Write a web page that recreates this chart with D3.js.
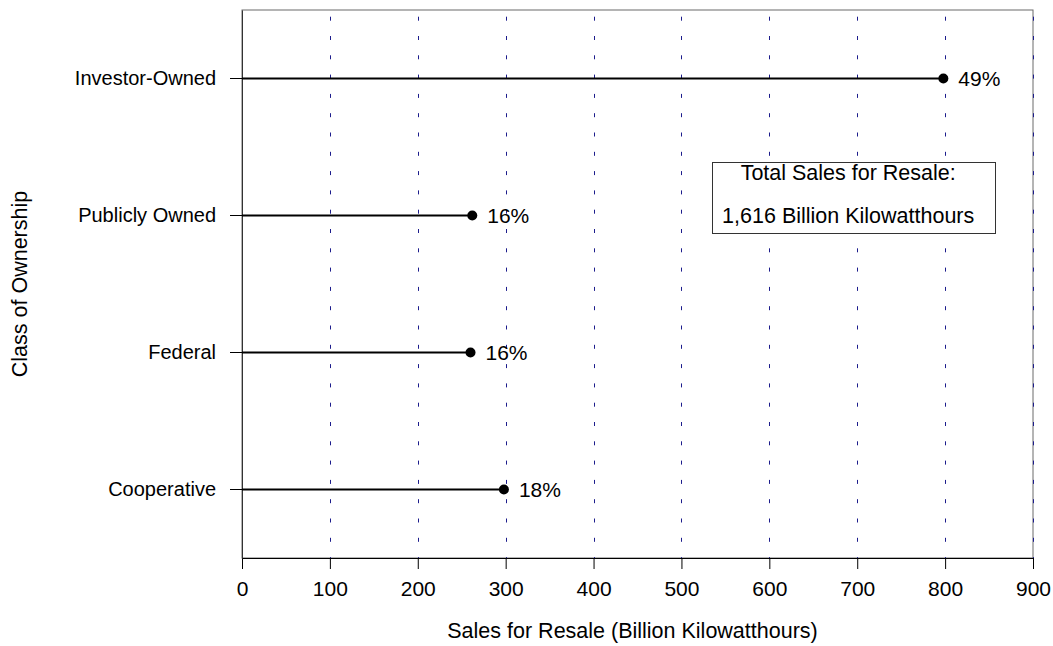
<!DOCTYPE html>
<html>
<head>
<meta charset="utf-8">
<script src="https://cdn.jsdelivr.net/npm/d3@7"></script>
<style>
  html, body { margin: 0; padding: 0; background: #fff; }
  text { font-family: "Liberation Sans", Arial, Helvetica, sans-serif; fill: #000; }
</style>
</head>
<body>
<svg id="chart" width="1053" height="646"></svg>
<script>
// ---- data ----
const categories = ["Investor-Owned", "Publicly Owned", "Federal", "Cooperative"];
const values = [798, 262, 260, 298];
const shareLabels = ["49%", "16%", "16%", "18%"];
const xTicks = [0, 100, 200, 300, 400, 500, 600, 700, 800, 900];
const xTitle = "Sales for Resale (Billion Kilowatthours)";
const yTitle = "Class of Ownership";
const noteLines = ["Total Sales for Resale:", "1,616 Billion Kilowatthours"];

// ---- layout ----
const W = 1053, H = 646;
const m = { left: 242, right: 1033, top: 10, bottom: 558 };
const FS = 21.5;

const svg = d3.select("#chart");

const x = d3.scaleLinear().domain([0, 900]).range([m.left, m.right]);
const y = d3.scaleBand().domain(categories).range([m.top, m.bottom]);
const yc = d => y(d) + y.bandwidth() / 2;

// frame
svg.append("rect")
  .attr("x", m.left).attr("y", m.top)
  .attr("width", m.right - m.left).attr("height", m.bottom - m.top)
  .attr("fill", "none").attr("stroke", "#6a6a6a").attr("stroke-width", 1);

// gridlines
svg.append("g").selectAll("line").data(xTicks).join("line")
  .attr("x1", d => Math.round(x(d)) + 0.5).attr("x2", d => Math.round(x(d)) + 0.5)
  .attr("y1", m.top).attr("y2", m.bottom)
  .attr("stroke", "#1c1c8c").attr("stroke-width", 1)
  .attr("stroke-dasharray", "4,15.3").attr("stroke-dashoffset", 12.6);

// x axis
const xAxis = svg.append("g")
  .attr("transform", `translate(0,${m.bottom})`)
  .call(d3.axisBottom(x).tickValues(xTicks).tickSize(11).tickSizeOuter(0).tickPadding(12).tickFormat(d3.format("d")));
xAxis.select(".domain").attr("stroke", "#000");
xAxis.selectAll(".tick line").attr("stroke", "#000");
xAxis.selectAll("text").attr("font-size", 21).attr("font-family", "Liberation Sans, Arial, sans-serif").attr("fill", "#000");

// y axis
const yAxis = svg.append("g")
  .attr("transform", `translate(${m.left},0)`)
  .call(d3.axisLeft(y).tickSize(12).tickSizeOuter(0).tickPadding(14));
yAxis.select(".domain").attr("stroke", "#333");
yAxis.selectAll(".tick line").attr("stroke", "#000");
yAxis.selectAll("text").attr("font-size", 20).attr("font-family", "Liberation Sans, Arial, sans-serif").attr("fill", "#000");

// lollipops
const rows = categories.map((c, i) => ({ c, v: values[i], lab: shareLabels[i] }));
svg.append("g").selectAll("line").data(rows).join("line")
  .attr("x1", x(0)).attr("x2", d => x(d.v))
  .attr("y1", d => yc(d.c)).attr("y2", d => yc(d.c))
  .attr("stroke", "#000").attr("stroke-width", 2.2);
svg.append("g").selectAll("circle").data(rows).join("circle")
  .attr("cx", d => x(d.v)).attr("cy", d => yc(d.c)).attr("r", 5)
  .attr("fill", "#000");
svg.append("g").selectAll("text").data(rows).join("text")
  .attr("x", d => x(d.v) + 15).attr("y", d => yc(d.c))
  .attr("dy", "0.36em")
  .attr("font-size", 21)
  .text(d => d.lab);

// note box
const bx0 = x(535), bx1 = x(857);
svg.append("rect")
  .attr("x", Math.round(bx0) + 0.5).attr("y", 162.5)
  .attr("width", Math.round(bx1 - bx0)).attr("height", 71)
  .attr("fill", "#fff").attr("stroke", "#333").attr("stroke-width", 1);
svg.append("g").selectAll("text").data(noteLines).join("text")
  .attr("x", bx0 + 136).attr("y", (d, i) => 179.5 + i * 43.5)
  .attr("text-anchor", "middle").attr("font-size", FS)
  .text(d => d);

// axis titles
svg.append("text")
  .attr("x", (m.left + m.right) / 2 - 5).attr("y", 638)
  .attr("text-anchor", "middle").attr("font-size", FS)
  .text(xTitle);
svg.append("text")
  .attr("transform", `translate(27,${(m.top + m.bottom) / 2}) rotate(-90)`)
  .attr("text-anchor", "middle").attr("font-size", FS)
  .text(yTitle);
</script>
</body>
</html>
